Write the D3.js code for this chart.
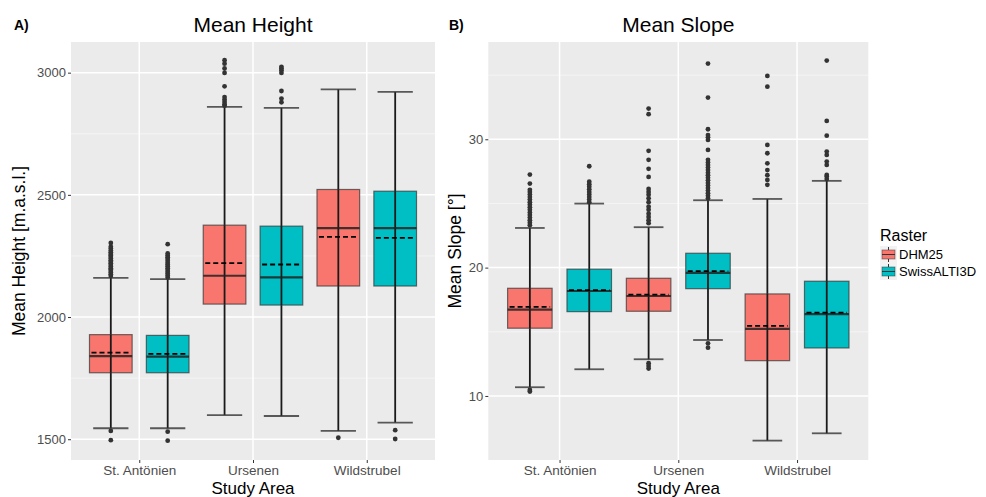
<!DOCTYPE html>
<html>
<head>
<meta charset="utf-8">
<script src="https://cdn.jsdelivr.net/npm/d3@7"></script>
<style>
  body { margin: 0; background: #fff; }
  text { font-family: "Liberation Sans", Arial, sans-serif; }
</style>
</head>
<body>
<svg id="chart" width="986" height="497"></svg>
<script>
// Data
const areas = ['St. Antönien', 'Ursenen', 'Wildstrubel'];
const rasters = ['DHM25', 'SwissALTI3D'];
const rasterColors = ['#F8766D', '#00BFC4'];

// box stats: [area, raster, lowerWhisker, q1, median, mean, q3, upperWhisker]
const heightBoxes = [
  ['St. Antönien', 'DHM25', 1545, 1772, 1840, 1854, 1928, 2160],
  ['St. Antönien', 'SwissALTI3D', 1545, 1772, 1838, 1849, 1925, 2155],
  ['Ursenen', 'DHM25', 1599, 2053, 2169, 2221, 2376, 2860],
  ['Ursenen', 'SwissALTI3D', 1595, 2049, 2162, 2215, 2372, 2856],
  ['Wildstrubel', 'DHM25', 1534, 2127, 2364, 2328, 2522, 2932],
  ['Wildstrubel', 'SwissALTI3D', 1568, 2127, 2364, 2324, 2515, 2921],
];
const heightOutliers = [
  [2168, 2175, 2182, 2188, 2195, 2200, 2207, 2213, 2220, 2226, 2232, 2240, 2246, 2252, 2258, 2265, 2272, 2280, 2288, 2303, 1534, 1496],
  [2162, 2170, 2178, 2185, 2192, 2200, 2208, 2215, 2222, 2230, 2238, 2245, 2252, 2260, 2298, 1531, 1494],
  [2865, 2871, 2880, 2890, 2900, 2944, 2999, 3017, 3037, 3051],
  [2879, 2894, 2925, 2999, 3010, 3017, 3024],
  [1506],
  [1537, 1501],
];
const heightTicks = [1500, 2000, 2500, 3000];
const heightMinor = [1750, 2250, 2750];

const slopeBoxes = [
  ['St. Antönien', 'DHM25', 10.68, 15.28, 16.73, 16.94, 18.39, 23.09],
  ['St. Antönien', 'SwissALTI3D', 12.08, 16.57, 18.18, 18.24, 19.88, 24.99],
  ['Ursenen', 'DHM25', 12.86, 16.6, 17.79, 17.9, 19.17, 23.15],
  ['Ursenen', 'SwissALTI3D', 14.36, 18.36, 19.59, 19.72, 21.12, 25.25],
  ['Wildstrubel', 'DHM25', 6.52, 12.75, 15.22, 15.46, 17.95, 25.35],
  ['Wildstrubel', 'SwissALTI3D', 7.09, 13.74, 16.37, 16.5, 18.94, 26.76],
];
const slopeOutliers = [
  [23.3, 23.5, 23.7, 23.9, 24.1, 24.3, 24.5, 24.7, 24.9, 25.1, 25.3, 25.5, 25.7, 25.9, 26.06, 26.55, 27.25, 10.47, 10.34],
  [25.1, 25.3, 25.5, 25.7, 25.9, 26.1, 26.3, 26.5, 26.7, 27.9],
  [23.46, 23.7, 23.95, 24.2, 24.5, 24.75, 25.1, 25.4, 25.67, 25.9, 26.13, 27.07, 27.7, 28.4, 29.1, 31.96, 32.39, 12.55, 12.34, 12.13],
  [25.4, 25.6, 25.8, 26.0, 26.2, 26.4, 26.6, 26.8, 27.0, 27.2, 27.4, 27.6, 27.8, 28.0, 28.2, 28.4, 29.17, 29.95, 30.15, 30.33, 30.78, 33.25, 35.9, 14.1, 13.76],
  [26.45, 26.83, 27.2, 27.6, 28.13, 28.91, 29.56, 34.1, 34.94],
  [26.9, 27.1, 27.22, 28.0, 28.26, 28.78, 29.04, 30.28, 31.43, 36.13],
];
const slopeTicks = [10, 20, 30];
const slopeMinor = [15, 25, 35];

const svg = d3.select('#chart');

function drawPanel(opt) {
  const { left, right, top, bottom, domain, boxes, outliers, ticks, minor, capWidth } = opt;
  const g = svg.append('g');

  // discrete scale with ggplot's 0.6 expansion
  const x = d3.scaleLinear().domain([0.4, 3.6]).range([left, right]);
  const y = d3.scaleLinear().domain(domain).range([bottom, top]);
  const unit = x(1) - x(0);

  g.append('rect')
    .attr('x', left).attr('y', top)
    .attr('width', right - left).attr('height', bottom - top)
    .style('fill', '#EBEBEB');

  // grids
  g.selectAll('.minor').data(minor).join('line')
    .attr('x1', left).attr('x2', right)
    .attr('y1', d => y(d)).attr('y2', d => y(d))
    .style('stroke', '#F7F7F7').style('stroke-width', 0.8);
  g.selectAll('.major-y').data(ticks).join('line')
    .attr('x1', left).attr('x2', right)
    .attr('y1', d => y(d)).attr('y2', d => y(d))
    .style('stroke', '#fff').style('stroke-width', 1.5);
  g.selectAll('.major-x').data(areas).join('line')
    .attr('x1', (d, i) => x(i + 1)).attr('x2', (d, i) => x(i + 1))
    .attr('y1', top).attr('y2', bottom)
    .style('stroke', '#fff').style('stroke-width', 1.5);

  // axes
  const yAxis = d3.axisLeft(y).tickValues(ticks).tickFormat(d3.format('d')).tickSize(3).tickPadding(2);
  const ya = g.append('g').attr('transform', `translate(${left},0)`).call(yAxis);
  ya.select('.domain').remove();
  ya.selectAll('line').style('stroke', '#333');
  ya.selectAll('text').style('fill', '#4D4D4D').style('font-size', '13px')
    .style('font-family', '"Liberation Sans", Arial, sans-serif');

  const xAxis = d3.axisBottom(x).tickValues([1, 2, 3]).tickFormat((d) => areas[d - 1]).tickSize(3).tickPadding(2);
  const xa = g.append('g').attr('transform', `translate(0,${bottom})`).call(xAxis);
  xa.select('.domain').remove();
  xa.selectAll('line').style('stroke', '#333');
  xa.selectAll('text').style('fill', '#4D4D4D').style('font-size', '13.5px')
    .style('font-family', '"Liberation Sans", Arial, sans-serif');

  // boxes
  const boxW = 0.375 * unit;
  const cx = b => x(areas.indexOf(b[0]) + 1) + (rasters.indexOf(b[1]) === 0 ? -0.25 : 0.25) * unit;

  boxes.forEach((b, i) => {
    const c = cx(b);
    const col = rasterColors[rasters.indexOf(b[1])];
    const bg = g.append('g');
    // whisker (errorbar)
    bg.append('line').attr('x1', c).attr('x2', c).attr('y1', y(b[2])).attr('y2', y(b[7]))
      .style('stroke', '#1a1a1a').style('stroke-width', 1.8);
    [b[2], b[7]].forEach(v => {
      bg.append('line').attr('x1', c - capWidth * unit / 2).attr('x2', c + capWidth * unit / 2)
        .attr('y1', y(v)).attr('y2', y(v))
        .style('stroke', '#333').style('stroke-opacity', 0.8).style('stroke-width', 1.8);
    });
    // outliers
    bg.selectAll('circle').data(outliers[i]).join('circle')
      .attr('cx', c).attr('cy', d => y(d)).attr('r', 2.4)
      .style('fill', '#333');
    // box
    bg.append('rect')
      .attr('x', c - boxW / 2).attr('width', boxW)
      .attr('y', y(b[6])).attr('height', y(b[3]) - y(b[6]))
      .style('fill', col).style('stroke', '#333').style('stroke-opacity', 0.7).style('stroke-width', 1.2);
    // whisker line drawn through the box as in the original
    bg.append('line').attr('x1', c).attr('x2', c).attr('y1', y(b[3])).attr('y2', y(b[6]))
      .style('stroke', '#1a1a1a').style('stroke-width', 1.8);
    // median
    bg.append('line').attr('x1', c - boxW / 2).attr('x2', c + boxW / 2)
      .attr('y1', y(b[4])).attr('y2', y(b[4]))
      .style('stroke', '#222').style('stroke-opacity', 0.85).style('stroke-width', 2.2);
    // mean
    bg.append('line').attr('x1', c - boxW / 2 + 2).attr('x2', c + boxW / 2 - 2)
      .attr('y1', y(b[5])).attr('y2', y(b[5]))
      .style('stroke', '#000').style('stroke-width', 1.8).style('stroke-dasharray', '5,3');
  });

  // labels
  g.append('text').attr('x', (left + right) / 2).attr('y', 31.5)
    .attr('text-anchor', 'middle').style('font-size', '21px').style('fill', '#000')
    .text(opt.title);
  g.append('text').attr('x', opt.tagX).attr('y', 30)
    .style('font-size', '14px').style('font-weight', 'bold').style('fill', '#000')
    .text(opt.tag);
  g.append('text').attr('x', (left + right) / 2).attr('y', 494)
    .attr('text-anchor', 'middle').style('font-size', '17px').style('fill', '#000')
    .text('Study Area');
  g.append('text')
    .attr('transform', `translate(${opt.ylabX},${(top + bottom) / 2}) rotate(-90)`)
    .attr('text-anchor', 'middle').style('font-size', '17.5px').style('fill', '#000')
    .text(opt.ylab);
}

drawPanel({
  left: 71, right: 435, top: 42, bottom: 460,
  domain: [1415, 3125.5],
  boxes: heightBoxes, outliers: heightOutliers,
  ticks: heightTicks, minor: heightMinor, capWidth: 0.31,
  title: 'Mean Height', tag: 'A)', tagX: 14, ylab: 'Mean Height [m.a.s.l.]', ylabX: 25,
});

drawPanel({
  left: 488.3, right: 868.3, top: 42, bottom: 460,
  domain: [5.01, 37.58],
  boxes: slopeBoxes, outliers: slopeOutliers,
  ticks: slopeTicks, minor: slopeMinor, capWidth: 0.25,
  title: 'Mean Slope', tag: 'B)', tagX: 449, ylab: 'Mean Slope [°]', ylabX: 461,
});

// legend
const legend = svg.append('g').attr('transform', 'translate(880,0)');
legend.append('text').attr('x', 0).attr('y', 241).style('font-size', '16px').text('Raster');
rasters.forEach((r, i) => {
  const ky = 246 + i * 17;
  const k = legend.append('g');
  k.append('rect').attr('x', 0).attr('y', ky).attr('width', 17).attr('height', 17).style('fill', '#F2F2F2');
  k.append('line').attr('x1', 8.5).attr('x2', 8.5).attr('y1', ky + 1).attr('y2', ky + 16)
    .style('stroke', '#333').style('stroke-width', 1);
  k.append('rect').attr('x', 2).attr('y', ky + 4).attr('width', 13).attr('height', 9)
    .style('fill', rasterColors[i]).style('stroke', '#333').style('stroke-opacity', 0.6).style('stroke-width', 0.8);
  k.append('line').attr('x1', 2).attr('x2', 15).attr('y1', ky + 8.5).attr('y2', ky + 8.5)
    .style('stroke', '#333').style('stroke-width', 1);
  legend.append('text').attr('x', 19).attr('y', ky + 13).style('font-size', '13px').text(r);
});
</script>
</body>
</html>
